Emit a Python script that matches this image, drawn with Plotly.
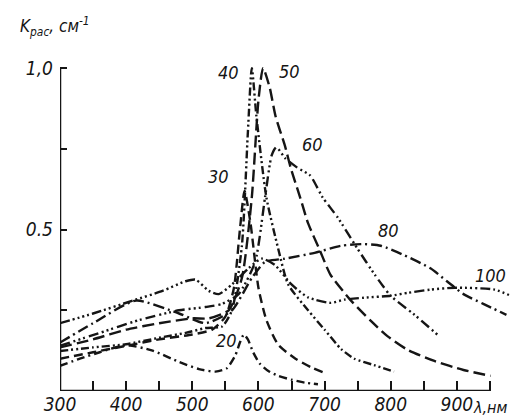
import plotly.graph_objects as go

# wavelength (nm) / K (cm^-1), one pair of arrays per particle size
x20 = [300, 330, 360, 400, 440, 480, 510, 535, 552, 565, 572, 578, 584, 592, 602, 615, 630, 650, 670, 690]
y20 = [0.078, 0.10, 0.12, 0.142, 0.125, 0.09, 0.068, 0.06, 0.07, 0.11, 0.15, 0.175, 0.16, 0.12, 0.085, 0.062, 0.047, 0.035, 0.026, 0.021]

x30 = [300, 350, 400, 450, 500, 530, 550, 563, 572, 579, 588, 600, 612, 630, 656, 680, 700]
y30 = [0.10, 0.12, 0.14, 0.16, 0.175, 0.19, 0.23, 0.32, 0.50, 0.62, 0.52, 0.32, 0.22, 0.143, 0.10, 0.073, 0.056]

x40 = [300, 350, 400, 450, 490, 520, 545, 560, 575, 584, 590, 597, 612, 630, 645, 675, 700, 725, 745, 775, 805]
y40 = [0.124, 0.135, 0.145, 0.165, 0.18, 0.195, 0.2, 0.25, 0.45, 0.8, 1.0, 0.85, 0.6, 0.44, 0.33, 0.25, 0.19, 0.13, 0.10, 0.08, 0.06]

x50 = [300, 350, 400, 450, 500, 525, 555, 575, 590, 600, 607, 617, 626, 640, 649, 663, 675, 693, 709, 740, 770, 795, 826, 866, 910, 951]
y50 = [0.135, 0.16, 0.19, 0.21, 0.225, 0.225, 0.25, 0.35, 0.6, 0.9, 1.0, 0.94, 0.85, 0.76, 0.69, 0.60, 0.52, 0.435, 0.36, 0.28, 0.217, 0.17, 0.127, 0.093, 0.065, 0.047]

x60 = [300, 360, 420, 480, 520, 545, 570, 595, 610, 620, 627, 641, 660, 678, 697, 720, 750, 776, 800, 836, 871]
y60 = [0.14, 0.18, 0.22, 0.25, 0.26, 0.27, 0.30, 0.40, 0.60, 0.73, 0.755, 0.72, 0.69, 0.668, 0.60, 0.537, 0.44, 0.36, 0.295, 0.236, 0.174]

x80 = [300, 350, 415, 480, 520, 560, 590, 610, 640, 685, 725, 760, 785, 821, 860, 885, 910, 940, 975]
y80 = [0.15, 0.21, 0.28, 0.24, 0.21, 0.25, 0.35, 0.40, 0.41, 0.428, 0.45, 0.455, 0.45, 0.42, 0.38, 0.34, 0.30, 0.27, 0.236]

x100 = [300, 350, 410, 455, 490, 505, 525, 540, 560, 585, 605, 625, 650, 675, 709, 730, 760, 800, 826, 860, 897, 957, 987]
y100 = [0.21, 0.24, 0.28, 0.31, 0.34, 0.345, 0.31, 0.30, 0.33, 0.38, 0.41, 0.39, 0.33, 0.29, 0.273, 0.283, 0.289, 0.295, 0.304, 0.314, 0.32, 0.314, 0.29]

sizes = ["20", "30", "40", "50", "60", "80", "100"]
label_x = [552, 540, 554, 647, 681, 797, 951]
label_y = [0.155, 0.663, 0.985, 0.991, 0.765, 0.498, 0.359]

xtick_vals = [300, 400, 500, 600, 700, 800, 900]
xtick_text = ["300", "400", "500", "600", "700", "800", "900"]
xminor_vals = [350, 450, 550, 650, 750, 850, 950]
ytick_vals = [0.5, 1.0]
ytick_text = ["0.5", "1,0"]
yminor_vals = [0.25, 0.75]

dashes = [
    "8px,4px,2px,4px",
    "9px,5px",
    "8px,3px,2px,3px,2px,3px",
    "12px,5px",
    "10px,4px,2px,3px,2px,3px,2px,4px",
    "11px,4px,2px,4px",
    "10px,3px,2px,3px,2px,3px,2px,3px,2px,3px",
]

series = [(x20, y20), (x30, y30), (x40, y40), (x50, y50), (x60, y60), (x80, y80), (x100, y100)]

FONT = "DejaVu Sans Condensed, Liberation Sans Narrow, Liberation Sans, sans-serif"
INK = "#151515"

fig = go.Figure()
for (xs, ys), d, name in zip(series, dashes, sizes):
    fig.add_trace(go.Scatter(x=xs, y=ys, mode="lines", name=name,
                             line=dict(color=INK, width=2.4, dash=d, shape="spline", smoothing=0.6),
                             showlegend=False, hoverinfo="skip"))

for t, lx, ly in zip(sizes, label_x, label_y):
    fig.add_annotation(x=lx, y=ly, text=t, showarrow=False,
                       font=dict(family=FONT, size=18, color=INK, style="italic"))

# axis lines (axis spans 300-950 nm and 0-1.0 only)
fig.add_shape(type="line", x0=300, x1=950, y0=0, y1=0, line=dict(color=INK, width=2.5))
fig.add_shape(type="line", x0=300, x1=300, y0=0, y1=1.0, line=dict(color=INK, width=2.5))

fig.add_annotation(xref="paper", yref="paper", x=-0.09, y=1.075, xanchor="left", yanchor="middle",
                   text="K<sub>рас</sub>, см<sup>-1</sup>", showarrow=False,
                   font=dict(family=FONT, size=17, color=INK, style="italic"))
fig.add_annotation(xref="paper", yref="paper", x=0.93, y=-0.05, xanchor="center", yanchor="middle",
                   text="λ,нм", showarrow=False,
                   font=dict(family=FONT, size=16, color=INK, style="italic"))

fig.update_layout(
    width=518, height=419,
    margin=dict(l=52, r=3, t=44, b=36),
    paper_bgcolor="white", plot_bgcolor="white",
    font=dict(family=FONT, size=19, color=INK, style="italic"),
    xaxis=dict(range=[300, 1000], showgrid=False, zeroline=False, showline=False,
               tickmode="array", tickvals=xtick_vals, ticktext=xtick_text,
               ticks="inside", ticklen=10, tickwidth=1.5, tickcolor=INK,
               minor=dict(tickmode="array", tickvals=xminor_vals, ticks="inside",
                          ticklen=10, tickwidth=1.5, tickcolor=INK, showgrid=False)),
    yaxis=dict(range=[0, 1.05], showgrid=False, zeroline=False, showline=False,
               tickmode="array", tickvals=ytick_vals, ticktext=ytick_text,
               ticks="inside", ticklen=7, tickwidth=2, tickcolor=INK,
               ticklabelstandoff=6,
               minor=dict(tickmode="array", tickvals=yminor_vals, ticks="inside",
                          ticklen=7, tickwidth=2, tickcolor=INK, showgrid=False)),
)

fig.write_html("out.html")
